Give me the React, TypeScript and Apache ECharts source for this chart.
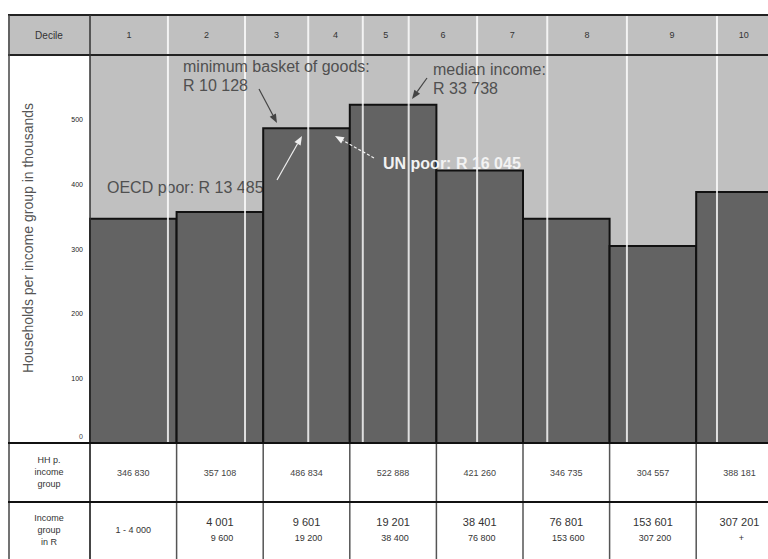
import React, { useEffect, useRef } from "react";
import * as echarts from "echarts";

// Income groups (Rand per year)
const incomeLower = ["1", "4 001", "9 601", "19 201", "38 401", "76 801", "153 601", "307 201"];
const incomeUpper = ["4 000", "9 600", "19 200", "38 400", "76 800", "153 600", "307 200", "+"];
// Households per income group
const households = [346830, 357108, 486834, 522888, 421260, 346735, 304557, 388181];
// Deciles and their boundaries (in income-group units on the log-income axis)
const decileLabels = ["1", "2", "3", "4", "5", "6", "7", "8", "9", "10"];
const decileEdges = [0, 0.9, 1.79, 2.52, 3.15, 3.68, 4.47, 5.28, 6.2, 7.24, 7.86];
// Y axis ticks (thousands)
const yTicks = [0, 100, 200, 300, 400, 500];

const FONT = "'Liberation Sans', Arial, sans-serif";

function fmt(n: number): string {
  return String(n).replace(/\B(?=(\d{3})+(?!\d))/g, " ");
}

function arrow(x1: number, y1: number, x2: number, y2: number, color: string, dashed = false) {
  const dx = x2 - x1;
  const dy = y2 - y1;
  const len = Math.sqrt(dx * dx + dy * dy);
  const ux = dx / len;
  const uy = dy / len;
  const hl = 9;
  const hw = 3.5;
  const bx = x2 - ux * hl;
  const by = y2 - uy * hl;
  return [
    {
      type: "line",
      z: 100,
      shape: { x1, y1, x2: bx, y2: by },
      style: { stroke: color, lineWidth: 1.2, lineDash: dashed ? [3, 2] : null },
    },
    {
      type: "polygon",
      z: 100,
      shape: {
        points: [
          [x2, y2],
          [bx - uy * hw, by + ux * hw],
          [bx + uy * hw, by - ux * hw],
        ],
      },
      style: { fill: color },
    },
  ];
}

function txt(text: string, x: number, y: number, opts: any = {}) {
  return {
    type: "text",
    z: opts.z !== undefined ? opts.z : 100,
    rotation: opts.rotation || 0,
    x: opts.rotation ? x : 0,
    y: opts.rotation ? y : 0,
    style: {
      text,
      x: opts.rotation ? 0 : x,
      y: opts.rotation ? 0 : y,
      fill: opts.fill || "#505050",
      font: `${opts.bold ? "bold " : ""}${opts.size || 16}px ${FONT}`,
      textAlign: opts.align || "left",
      align: opts.align || "left",
      textVerticalAlign: "middle",
      verticalAlign: "middle",
      lineHeight: opts.lineHeight || 12,
    },
  };
}

export default function App() {
  const ref = useRef<HTMLDivElement>(null);

  useEffect(() => {
    document.body.style.margin = "0";
    if (!ref.current) return;
    const chart = echarts.init(ref.current, null, { renderer: "svg" });

    const graphics: any[] = [
      // header background
      { type: "rect", z: 0, shape: { x: 8, y: 15, width: 760, height: 40 }, style: { fill: "#c0c0c0" } },
      { type: "line", z: 50, shape: { x1: 8, y1: 15, x2: 768, y2: 15 }, style: { stroke: "#222", lineWidth: 2 } },
      { type: "line", z: 50, shape: { x1: 8, y1: 55, x2: 768, y2: 55 }, style: { stroke: "#222", lineWidth: 2 } },
      // left column borders
      { type: "line", z: 50, shape: { x1: 9, y1: 15, x2: 9, y2: 559 }, style: { stroke: "#444", lineWidth: 1.5 } },
      { type: "line", z: 50, shape: { x1: 90, y1: 15, x2: 90, y2: 559 }, style: { stroke: "#333", lineWidth: 1.5 } },
      // table horizontal lines
      { type: "line", z: 50, shape: { x1: 8, y1: 443, x2: 768, y2: 443 }, style: { stroke: "#111", lineWidth: 2 } },
      { type: "line", z: 50, shape: { x1: 8, y1: 502, x2: 768, y2: 502 }, style: { stroke: "#111", lineWidth: 2 } },
      txt("Decile", 49, 35, { align: "center", size: 10, fill: "#333" }),
      txt("HH p.\nincome\ngroup", 49, 472, { align: "center", size: 9, fill: "#333", lineHeight: 12 }),
      txt("Income\ngroup\nin R", 49, 530, { align: "center", size: 9, fill: "#333", lineHeight: 12 }),
      // y axis title
      txt("Households per income group in thousands", 28, 238, {
        align: "center",
        size: 14,
        fill: "#555",
        rotation: Math.PI / 2,
      }),
      // annotations
      txt("minimum basket of goods:", 183, 66),
      txt("R 10 128", 183, 85),
      ...arrow(259, 89, 277, 123, "#444"),
      txt("median income:", 433, 69),
      txt("R 33 738", 433, 88),
      ...arrow(427, 78, 412, 99, "#444"),
      txt("OECD poor: R 13 485", 107, 187, { z: 1 }),
      ...arrow(277, 180, 302, 136, "#eeeeee"),
      txt("UN poor: R 16 045", 383, 163, { bold: true, fill: "#f2f2f2" }),
      ...arrow(374, 158, 335, 136, "#f2f2f2", true),
    ];

    chart.setOption({
      animation: false,
      grid: {
        left: 90,
        right: 0,
        top: 55,
        bottom: 116,
        show: true,
        backgroundColor: "#c0c0c0",
        borderWidth: 0,
      },
      xAxis: {
        type: "value",
        min: 0,
        max: 678 / 86.6,
        show: false,
      },
      yAxis: {
        type: "value",
        min: 0,
        max: 600,
        interval: 100,
        axisLine: { show: false },
        axisTick: { show: false },
        splitLine: { show: false },
        axisLabel: {
          margin: 7,
          fontFamily: FONT,
          fontSize: 7,
          color: "#222",
          formatter: (v: number) =>
            v === 0 ? "{lo|0}" : yTicks.indexOf(v) >= 0 ? String(v) : "",
          rich: { lo: { fontFamily: FONT, fontSize: 7, color: "#444", padding: [0, 0, 14, 0] } },
        },
      },
      graphic: { elements: graphics },
      series: [
        {
          type: "custom",
          name: "Households",
          clip: false,
          z: 5,
          data: households.map((h, i) => [i, h / 1000]),
          renderItem: (params: any, api: any) => {
            const i = api.value(0);
            const v = api.value(1);
            const p0 = api.coord([i, 0]);
            const p1 = api.coord([i + 1, v]);
            const x0 = p0[0];
            const x1 = p1[0];
            const y0 = p0[1];
            const y1 = p1[1];
            const cx = (x0 + x1) / 2;
            const children: any[] = [
              {
                type: "rect",
                shape: { x: x0, y: y1, width: x1 - x0, height: y0 - y1 },
                style: { fill: "#636363" },
              },
              {
                type: "polyline",
                shape: { points: [[x0, y0], [x0, y1], [x1, y1], [x1, y0]] },
                style: { stroke: "#111", lineWidth: 2, fill: null },
              },
              {
                type: "line",
                shape: { x1: x0, y1: 443, x2: x0, y2: 559 },
                style: { stroke: "#555", lineWidth: 1.5 },
              },
              {
                type: "text",
                style: {
                  text: fmt(households[i]),
                  x: cx,
                  y: 473,
                  fill: "#444",
                  font: `9px ${FONT}`,
                  textAlign: "center",
                  align: "center",
                  textVerticalAlign: "middle",
                  verticalAlign: "middle",
                },
              },
            ];
            if (i === 0) {
              children.push({
                type: "text",
                style: {
                  text: `${incomeLower[i]} - ${incomeUpper[i]}`,
                  x: cx,
                  y: 530,
                  fill: "#333",
                  font: `9px ${FONT}`,
                  textAlign: "center",
                  align: "center",
                  textVerticalAlign: "middle",
                  verticalAlign: "middle",
                },
              });
            } else {
              children.push({
                type: "text",
                style: {
                  text: incomeLower[i],
                  x: cx,
                  y: 522,
                  fill: "#333",
                  font: `11px ${FONT}`,
                  textAlign: "center",
                  align: "center",
                  textVerticalAlign: "middle",
                  verticalAlign: "middle",
                },
              });
              children.push({
                type: "text",
                style: {
                  text: incomeUpper[i],
                  x: cx + 2,
                  y: 538,
                  fill: "#333",
                  font: `9px ${FONT}`,
                  textAlign: "center",
                  align: "center",
                  textVerticalAlign: "middle",
                  verticalAlign: "middle",
                },
              });
            }
            return { type: "group", children };
          },
        },
        {
          type: "custom",
          name: "Deciles",
          clip: false,
          z: 8,
          silent: true,
          data: decileLabels.map((l, i) => [decileEdges[i], decileEdges[i + 1], i]),
          renderItem: (params: any, api: any) => {
            const lo = api.value(0);
            const hi = api.value(1);
            const k = api.value(2);
            const xa = api.coord([lo, 0])[0];
            const xb = api.coord([hi, 0])[0];
            const children: any[] = [
              {
                type: "text",
                style: {
                  text: decileLabels[k],
                  x: (xa + xb) / 2,
                  y: 35,
                  fill: "#333",
                  font: `9px ${FONT}`,
                  textAlign: "center",
                  align: "center",
                  textVerticalAlign: "middle",
                  verticalAlign: "middle",
                },
              },
            ];
            if (k < decileLabels.length - 1) {
              children.push({
                type: "line",
                shape: { x1: xb, y1: 14, x2: xb, y2: 442 },
                style: { stroke: "rgba(255,255,255,0.8)", lineWidth: 2 },
              });
            }
            return { type: "group", children };
          },
        },
      ],
    });

    return () => {
      chart.dispose();
    };
  }, []);

  return <div ref={ref} style={{ width: 768, height: 559, background: "#fff" }} />;
}
